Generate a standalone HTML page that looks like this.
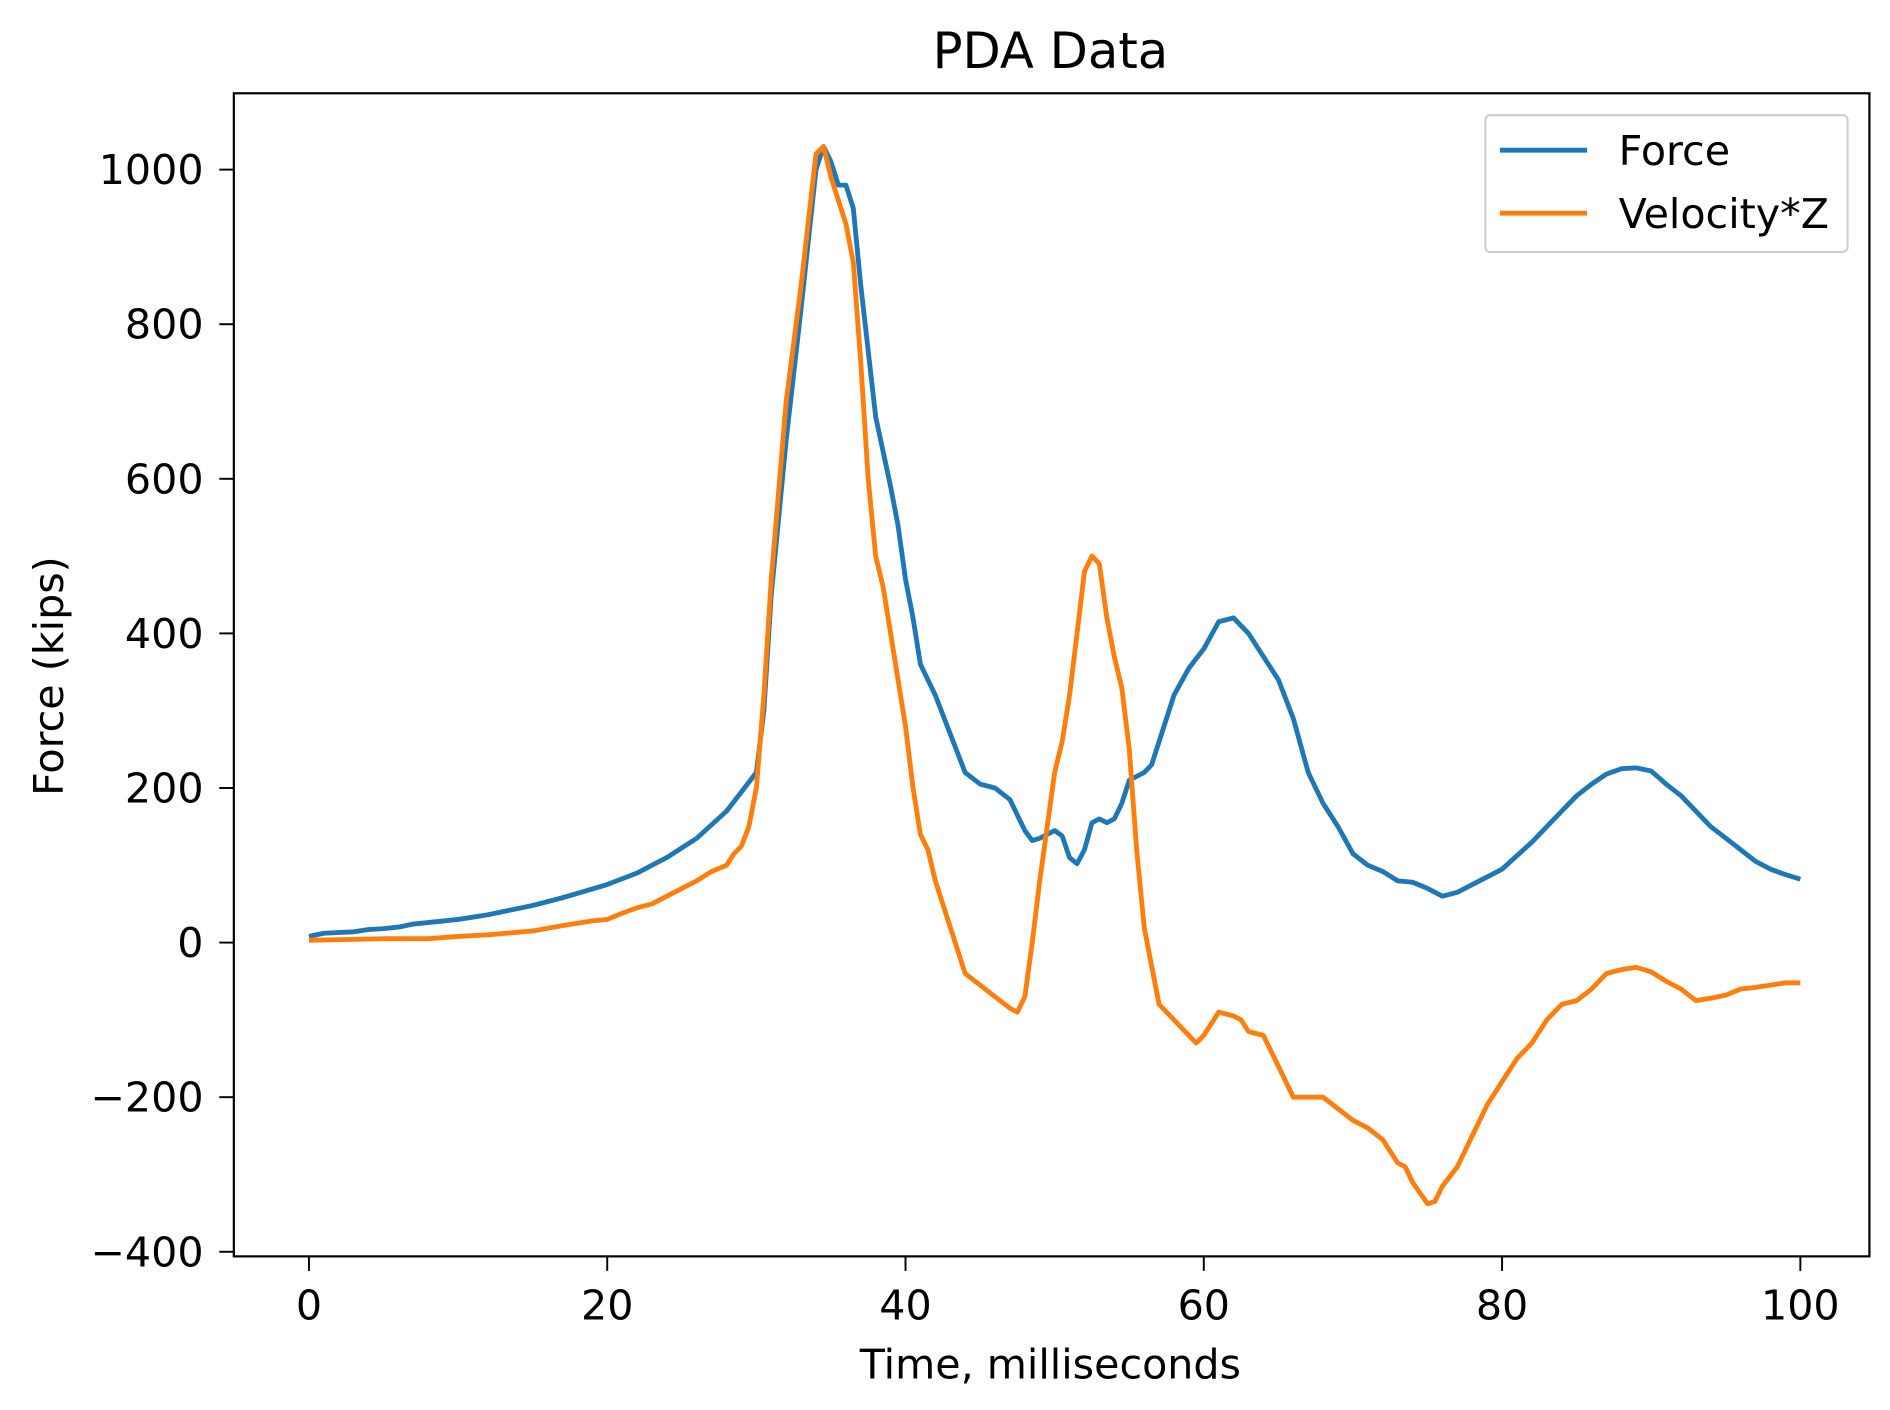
<!DOCTYPE html>
<html><head><meta charset="utf-8"><style>html,body{margin:0;padding:0;background:#fff}svg{display:block}text{font-family:"DejaVu Sans","Liberation Sans",sans-serif;fill:#000}</style></head>
<body>
<svg id="s" width="1890" height="1410" viewBox="0 0 1560 1163.8" preserveAspectRatio="none" xmlns="http://www.w3.org/2000/svg">
<rect x="0" y="0" width="1560" height="1164" fill="#fff"/>
<text x="867" y="56" font-size="41" text-anchor="middle">PDA Data</text>
<g id="ticks" stroke="#000" stroke-width="1.6"></g>
<g id="lbl" font-size="34"></g>
<text x="867" y="1138" font-size="34" text-anchor="middle">Time, milliseconds</text>
<text transform="translate(52,558) rotate(-90)" font-size="34" text-anchor="middle">Force (kips)</text>
<polyline id="f" fill="none" stroke="#1f77b4" stroke-width="4" stroke-linejoin="round"/>
<polyline id="v" fill="none" stroke="#ff7f0e" stroke-width="4" stroke-linejoin="round"/>
<rect x="193" y="77" width="1350" height="960" fill="none" stroke="#000" stroke-width="1.8"/>
<rect x="1226" y="95" width="299" height="113" rx="4" fill="#fff" fill-opacity="0.8" stroke="#ccc" stroke-width="1.6"/>
<line x1="1238" y1="124" x2="1310" y2="124" stroke="#1f77b4" stroke-width="4"/>
<line x1="1238" y1="176" x2="1310" y2="176" stroke="#ff7f0e" stroke-width="4"/>
<text x="1336" y="136" font-size="34">Force</text>
<text x="1336" y="188" font-size="34">Velocity*Z</text>
</svg>
<script>
var X=t=>255+t*12.31, Y=v=>778-v*0.638;
var F=[[0,8],[1,12],[3,14],[4,17],[5,18],[6,20],[7,24],[10,30],[12,36],[15,48],[17,58],[20,75],[22,90],[24,110],[26,135],[28,170],[29,195],[30,220],[30.5,300],[31,450],[32,650],[33,820],[34,1000],[34.5,1030],[35,1010],[35.5,980],[36,980],[36.5,950],[37,850],[38,680],[39,590],[39.5,540],[40,470],[40.5,420],[41,360],[42,320],[43,270],[44,220],[45,205],[46,200],[47,185],[48,145],[48.5,132],[49,135],[50,145],[50.5,138],[51,110],[51.5,102],[52,120],[52.5,155],[53,160],[53.5,155],[54,160],[54.5,180],[55,210],[56,220],[56.5,230],[57,260],[58,320],[59,355],[60,380],[61,415],[62,420],[63,400],[64,370],[65,340],[66,290],[67,220],[68,180],[69,150],[70,115],[71,100],[72,92],[73,80],[74,78],[75,70],[76,60],[77,65],[78,75],[79,85],[80,95],[82,130],[84,170],[85,190],[86,205],[87,218],[88,225],[89,226],[90,222],[91,205],[92,190],[93,170],[94,150],[95,135],[96,120],[97,105],[98,95],[99,88],[100,82]];
var V=[[0,3],[5,5],[8,5],[10,8],[12,10],[15,15],[17,22],[19,28],[20,30],[21,38],[22,45],[23,50],[24,60],[25,70],[26,80],[27,92],[28,100],[28.5,115],[29,125],[29.5,150],[30,200],[30.5,320],[31,470],[32,700],[33,850],[34,1020],[34.5,1030],[35,990],[35.5,960],[36,930],[36.5,880],[37,750],[37.5,600],[38,500],[38.5,460],[39,400],[40,280],[40.5,200],[41,140],[41.5,120],[42,80],[43,20],[43.5,-10],[44,-40],[45,-55],[46,-70],[47,-85],[47.5,-90],[48,-70],[48.5,0],[49,80],[50,220],[50.5,260],[51,320],[51.5,400],[52,480],[52.5,500],[53,490],[53.5,420],[54,370],[54.5,330],[55,250],[55.5,120],[56,20],[56.5,-30],[57,-80],[58,-100],[59,-120],[59.5,-130],[60,-120],[61,-90],[62,-95],[62.5,-100],[63,-115],[64,-120],[64.5,-140],[65,-160],[66,-200],[67,-200],[68,-200],[69,-215],[70,-230],[71,-240],[72,-255],[73,-285],[73.5,-290],[74,-310],[75,-338],[75.5,-335],[76,-315],[77,-290],[78,-250],[79,-210],[80,-180],[81,-150],[82,-130],[83,-100],[84,-80],[85,-75],[86,-60],[87,-40],[88,-35],[89,-32],[90,-38],[91,-50],[92,-60],[93,-75],[94,-72],[95,-68],[96,-60],[97,-58],[98,-55],[99,-52],[100,-52]];
function pts(a){return a.map(p=>X(p[0]).toFixed(1)+","+Y(p[1]).toFixed(1)).join(" ");}
document.getElementById('f').setAttribute('points',pts(F));
document.getElementById('v').setAttribute('points',pts(V));
var h="",l="";
for(var t=0;t<=100;t+=20){var x=X(t);h+='<line x1="'+x+'" y1="1037" x2="'+x+'" y2="1049"/>';l+='<text x="'+x+'" y="1089" text-anchor="middle">'+t+'</text>';}
for(var v=-400;v<=1000;v+=200){var y=Y(v);h+='<line x1="181" y1="'+y+'" x2="193" y2="'+y+'"/>';l+='<text x="168" y="'+(y+12)+'" text-anchor="end">'+(v<0?'\u2212'+(-v):v)+'</text>';}
document.getElementById('ticks').innerHTML=h;document.getElementById('lbl').innerHTML=l;
</script>
</body></html>
